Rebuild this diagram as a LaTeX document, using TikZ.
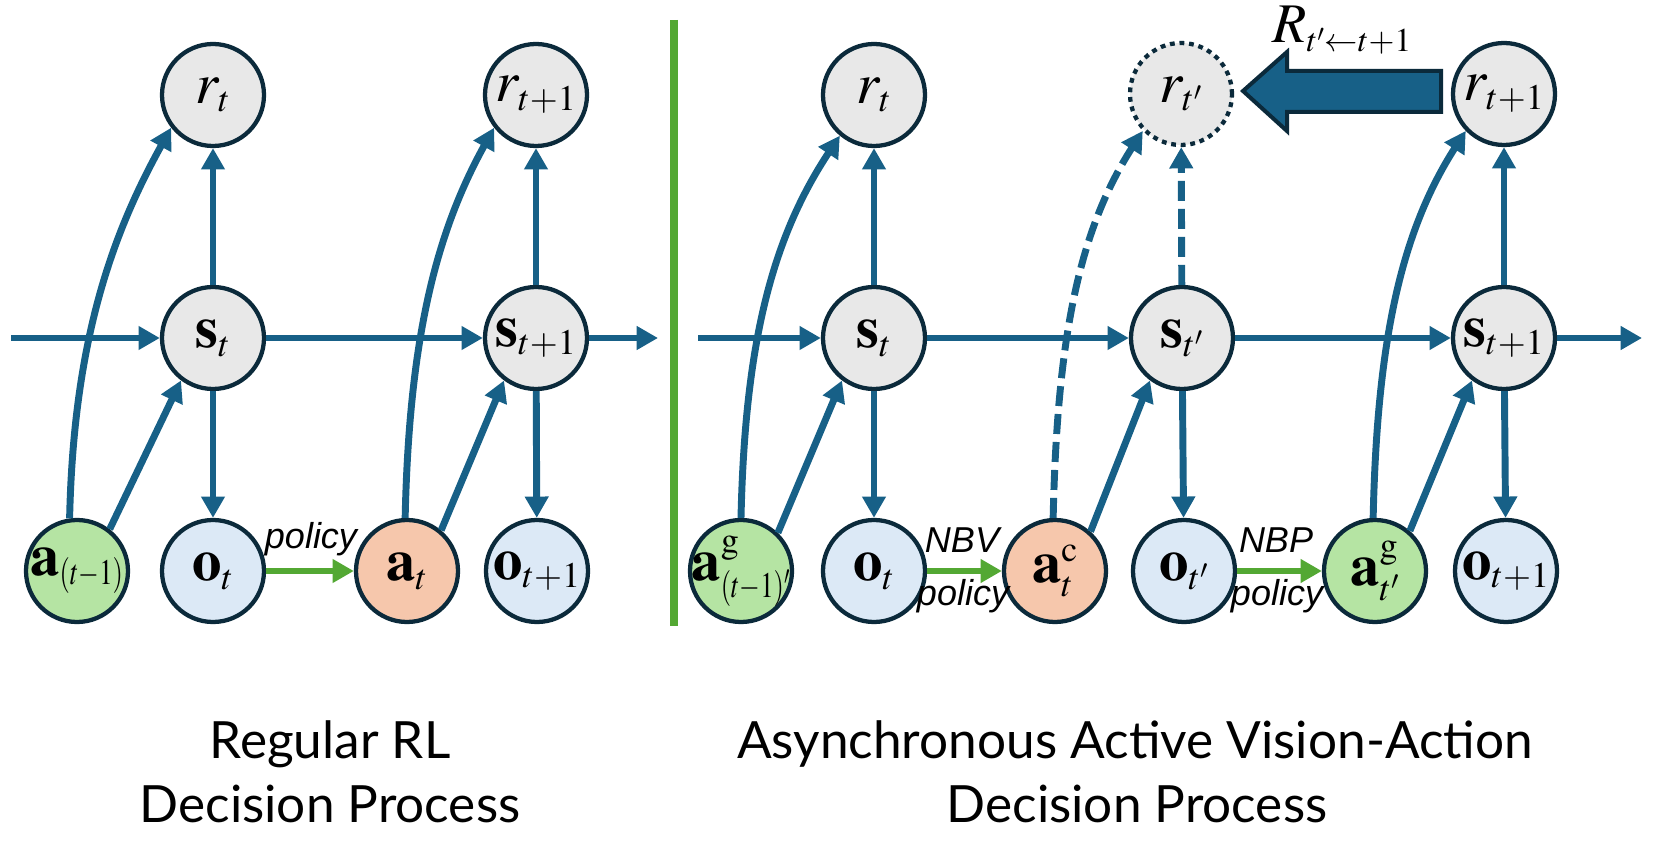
\documentclass[tikz,border=0pt]{standalone}
\usepackage{mathptmx}
\usepackage[no-math]{fontspec}
\newfontfamily\capfont{Lato}
\newfontfamily\lblfont{Liberation Sans}
\usetikzlibrary{arrows.meta}
\DeclareMathSizes{44}{44}{27}{20}
\DeclareMathSizes{42}{42}{25}{18}
\newcommand{\tightsub}[1]{\scalebox{0.74}[1]{$\scriptstyle #1$}}
\definecolor{flow}{RGB}{23,96,135}
\definecolor{rim}{RGB}{11,42,59}
\definecolor{stategray}{RGB}{232,232,232}
\definecolor{obsblue}{RGB}{220,233,246}
\definecolor{actgreen}{RGB}{181,228,163}
\definecolor{actorange}{RGB}{246,199,172}
\definecolor{polgreen}{RGB}{83,168,51}

\tikzset{every picture/.style={line width=0.75pt}}
\tikzset{
  varnode/.style={circle, draw=rim, line width=3.2pt, minimum size=76.5pt, inner sep=-14pt, font=\fontsize{44}{50}\selectfont},
  statenode/.style={varnode, fill=stategray},
  obsnode/.style={varnode, fill=obsblue},
  goalnode/.style={varnode, fill=actgreen},
  camnode/.style={varnode, fill=actorange},
  ghostnode/.style={statenode, dash pattern=on 3.6pt off 3.6pt},
  flowarrow/.style={draw=flow, line width=5.2pt, -{Triangle[length=16pt,width=17pt]}},
  guessarrow/.style={flowarrow, dash pattern=on 15pt off 6pt},
  polarrow/.style={draw=polgreen, line width=5.2pt, -{Triangle[length=16pt,width=17pt]}},
  pollabel/.style={font=\lblfont\itshape\fontsize{27}{30}\selectfont, inner sep=0pt},
  caption/.style={font=\capfont\fontsize{38.5}{46}\selectfont, inner sep=0pt, anchor=base}
}

\begin{document}
\begin{tikzpicture}[x=0.75pt,y=0.75pt,yscale=-1,xscale=1]
\useasboundingbox (0,0) rectangle (1661,841);

% Regular RL nodes
\node[statenode] (lr1) at (213,95) {$r_t$};
\node[statenode] (lr2) at (536,95) {$r_{t+1}$};
\node[statenode] (ls1) at (213,338) {$\mathbf{s}_t$};
\node[statenode] (ls2) at (536,338) {$\mathbf{s}_{t+1}$};
\node[goalnode] (la0) at (77,571) {$\mathbf{a}_{\tightsub{(t-1)}}$};
\node[obsnode] (lo1) at (213,571) {$\mathbf{o}_t$};
\node[camnode] (la1) at (407,571) {$\mathbf{a}_t$};
\node[obsnode] (lo2) at (537,571) {$\mathbf{o}_{t+1}$};
\coordinate (lin) at (11,338);
\coordinate (lout) at (658,338);

% Asynchronous nodes
\node[statenode] (rr1) at (874,95) {$r_t$};
\node[ghostnode] (rr2) at (1181,94) {$r_{t'}$};
\node[statenode] (rr3) at (1504,94) {$r_{t+1}$};
\node[statenode] (rs1) at (874,338) {$\mathbf{s}_t$};
\node[statenode] (rs2) at (1182,338) {$\mathbf{s}_{t'}$};
\node[statenode] (rs3) at (1504,338) {$\mathbf{s}_{t+1}$};
\node[goalnode] (ra0) at (741,571) {$\mathbf{a}^{\mathrm{g}}_{\tightsub{(t-1)'}}$};
\node[obsnode] (ro1) at (874,571) {$\mathbf{o}_t$};
\node[camnode] (ra1) at (1055,571) {$\mathbf{a}^{\mathrm{c}}_t$};
\node[obsnode] (ro2) at (1184,571) {$\mathbf{o}_{t'}$};
\node[goalnode] (ra2) at (1375,571) {$\mathbf{a}^{\mathrm{g}}_{t'}$};
\node[obsnode] (ro3) at (1506,571) {$\mathbf{o}_{t+1}$};
\coordinate (rin) at (698,338);
\coordinate (rout) at (1642,338);

% separator
\draw[polgreen, line width=6pt] (674,20) -- (674,626);

% Regular RL edges
\draw[flowarrow] (lin) -- (ls1);
\draw[flowarrow] (ls1) -- (ls2);
\draw[flowarrow] (ls2) -- (lout);
\draw[flowarrow] (ls1) -- (lr1);
\draw[flowarrow] (ls2) -- (lr2);
\draw[flowarrow] (ls1) -- (lo1);
\draw[flowarrow] (ls2) -- (lo2);
\draw[flowarrow] (la0.52) -- (ls1.233);
\draw[flowarrow] (la1.50) -- (ls2.233);
\draw[flowarrow] (la0.98) .. controls +(4,-180) and +(-58,105) .. (lr1.218);
\draw[flowarrow] (la1.92) .. controls +(4,-180) and +(-58,105) .. (lr2.218);
\draw[polarrow] (lo1) -- (la1);

% Asynchronous edges
\draw[flowarrow] (rin) -- (rs1);
\draw[flowarrow] (rs1) -- (rs2);
\draw[flowarrow] (rs2) -- (rs3);
\draw[flowarrow] (rs3) -- (rout);
\draw[flowarrow] (rs1) -- (rr1);
\draw[guessarrow] (rs2) -- (rr2);
\draw[flowarrow] (rs3) -- (rr3);
\draw[flowarrow] (rs1) -- (ro1);
\draw[flowarrow] (rs2) -- (ro2);
\draw[flowarrow] (rs3) -- (ro3);
\draw[flowarrow] (ra0.46) -- (rs1.233);
\draw[flowarrow] (ra1.48) -- (rs2.233);
\draw[flowarrow] (ra2.49) -- (rs3.233);
\draw[flowarrow] (ra0.90) .. controls +(4,-180) and +(-66,100) .. (rr1.230);
\draw[guessarrow] (ra1.92) .. controls +(4,-180) and +(-64,100) .. (rr2.224);
\draw[flowarrow] (ra2.92) .. controls +(4,-180) and +(-64,100) .. (rr3.224);
\draw[polarrow] (ro1) -- (ra1);
\draw[polarrow] (ro2) -- (ra2);

% reward shift arrow
\draw[draw=rim, fill=flow, line width=3pt] (1243,91) -- (1287,52) -- (1287,71) -- (1441,71) -- (1441,112) -- (1287,112) -- (1287,131) -- cycle;
\node[anchor=base west, inner sep=0pt, font=\fontsize{42}{48}\selectfont] (rlbl) at (1272,43) {$R_{t'\leftarrow t+1}$};

% Text Node
\node[pollabel, anchor=base] (pl0) at (311,549) {policy};
\node[pollabel, anchor=base] (pnbv) at (962,552) {NBV};
\node[pollabel, anchor=base] (pl1) at (963,605) {policy};
\node[pollabel, anchor=base] (pnbp) at (1276,552) {NBP};
\node[pollabel, anchor=base] (pl2) at (1277,605) {policy};

% captions
\node[caption] (capl1) at (330,758) {Regular RL};
\node[caption] (capl2) at (330,822) {Decision Process};
\node[caption] (capr1) at (1135,758) {Asynchronous Active Vision-Action};
\node[caption] (capr2) at (1137,822) {Decision Process};

\end{tikzpicture}
\end{document}
